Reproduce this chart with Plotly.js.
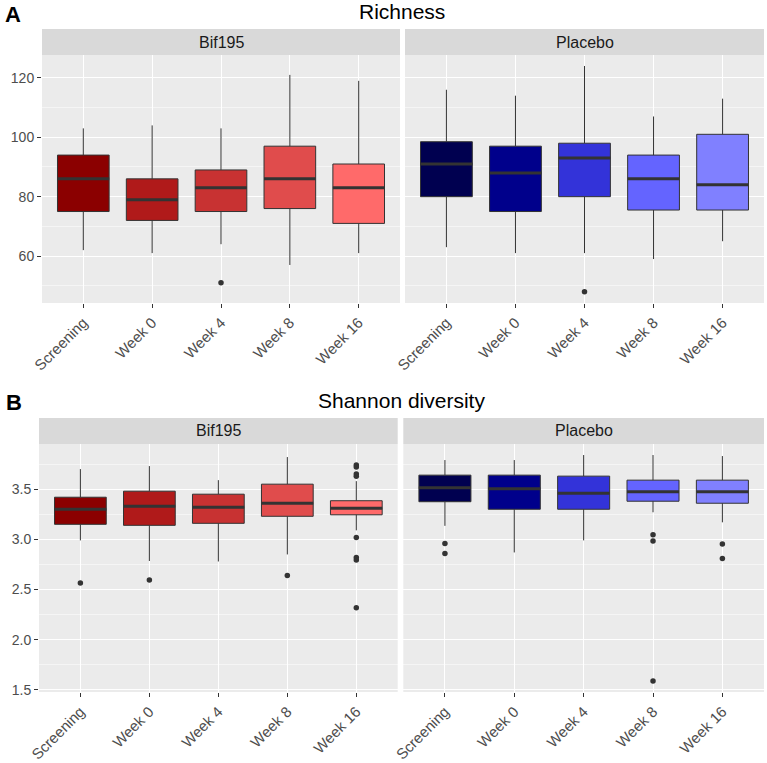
<!DOCTYPE html>
<html>
<head>
<meta charset="utf-8">
<script src="https://cdn.plot.ly/plotly-3.0.1.min.js"></script>
<style>html,body{margin:0;padding:0;background:#fff;}#chart{width:767px;height:763px;}</style>
</head>
<body>
<div id="chart"></div>
<script>
// ---- data ----
const categories = ['Screening', 'Week 0', 'Week 4', 'Week 8', 'Week 16'];
const groups = ['Bif195', 'Placebo'];
const bifColors = ['#8B0000', '#B01A1A', '#C83232', '#E04C4C', '#FF6A6A'];
const placeboColors = ['#000050', '#00008B', '#3333D9', '#6464FF', '#8080FF'];

// Richness, Bif195
const richBifLower  = [62, 61, 64, 57, 61];
const richBifQ1     = [75, 72, 75, 76, 71];
const richBifMedian = [86, 79, 83, 86, 83];
const richBifQ3     = [94, 86, 89, 97, 91];
const richBifUpper  = [103, 104, 103, 121, 119];
const richBifOutCat = ['Week 4'];
const richBifOutVal = [51];

// Richness, Placebo
const richPlaLower  = [63, 61, 61, 59, 65];
const richPlaQ1     = [80, 75, 80, 75.5, 75.5];
const richPlaMedian = [91, 88, 93, 86, 84];
const richPlaQ3     = [98.5, 97, 98, 94, 101];
const richPlaUpper  = [116, 114, 124, 107, 113];
const richPlaOutCat = ['Week 4'];
const richPlaOutVal = [48];

// Shannon diversity, Bif195
const shanBifLower  = [2.99, 2.785, 2.78, 2.85, 3.09];
const shanBifQ1     = [3.15, 3.14, 3.16, 3.23, 3.245];
const shanBifMedian = [3.30, 3.33, 3.32, 3.36, 3.31];
const shanBifQ3     = [3.42, 3.48, 3.45, 3.55, 3.385];
const shanBifUpper  = [3.70, 3.73, 3.59, 3.82, 3.58];
const shanBifOutCat = ['Screening', 'Week 0', 'Week 8', 'Week 16', 'Week 16', 'Week 16', 'Week 16', 'Week 16', 'Week 16', 'Week 16', 'Week 16'];
const shanBifOutVal = [2.565, 2.595, 2.64, 3.74, 3.72, 3.65, 3.63, 3.02, 2.82, 2.795, 2.32];

// Shannon diversity, Placebo
const shanPlaLower  = [3.135, 2.87, 2.99, 3.27, 3.17];
const shanPlaQ1     = [3.375, 3.30, 3.30, 3.38, 3.36];
const shanPlaMedian = [3.515, 3.505, 3.46, 3.475, 3.475];
const shanPlaQ3     = [3.64, 3.64, 3.63, 3.59, 3.59];
const shanPlaUpper  = [3.79, 3.79, 3.84, 3.84, 3.83];
const shanPlaOutCat = ['Screening', 'Screening', 'Week 8', 'Week 8', 'Week 8', 'Week 16', 'Week 16'];
const shanPlaOutVal = [2.96, 2.86, 3.045, 2.985, 1.59, 2.955, 2.81];

// ---- build ----
const BOXW = 0.75;
const traces = [];
function addPanel(xa, ya, colors, lower, q1, med, q3, upper, outCat, outVal) {
  categories.forEach((c, i) => {
    traces.push({
      type: 'box', xaxis: xa, yaxis: ya, x: [i],
      q1: [q1[i]], median: [med[i]], q3: [q3[i]],
      lowerfence: [lower[i]], upperfence: [upper[i]],
      width: BOXW, whiskerwidth: 0, boxpoints: false,
      fillcolor: colors[i], line: {color: '#333333', width: 1},
      showlegend: false, hoverinfo: 'skip'
    });
  });
  const mx = [], my = [];
  categories.forEach((c, i) => { mx.push(i - BOXW / 2, i + BOXW / 2, null); my.push(med[i], med[i], null); });
  traces.push({type: 'scatter', mode: 'lines', xaxis: xa, yaxis: ya, x: mx, y: my,
    line: {color: '#333333', width: 3}, showlegend: false, hoverinfo: 'skip'});
  traces.push({type: 'scatter', mode: 'markers', xaxis: xa, yaxis: ya,
    x: outCat.map(c => categories.indexOf(c)), y: outVal,
    marker: {color: '#333333', size: 5.5}, showlegend: false, hoverinfo: 'skip'});
}
addPanel('x', 'y', bifColors, richBifLower, richBifQ1, richBifMedian, richBifQ3, richBifUpper, richBifOutCat, richBifOutVal);
addPanel('x2', 'y2', placeboColors, richPlaLower, richPlaQ1, richPlaMedian, richPlaQ3, richPlaUpper, richPlaOutCat, richPlaOutVal);
addPanel('x3', 'y3', bifColors, shanBifLower, shanBifQ1, shanBifMedian, shanBifQ3, shanBifUpper, shanBifOutCat, shanBifOutVal);
addPanel('x4', 'y4', placeboColors, shanPlaLower, shanPlaQ1, shanPlaMedian, shanPlaQ3, shanPlaUpper, shanPlaOutCat, shanPlaOutVal);

const W = 767, H = 763;
const px = v => v / W, py = v => 1 - v / H;
const FONT = 'Liberation Sans, Arial, sans-serif';

function xaxis(domain, anchor) {
  return {
    domain: domain, anchor: anchor, range: [-0.6, 4.6],
    tickmode: 'array', tickvals: categories.map((c, i) => i), ticktext: categories,
    tickangle: -45, ticks: 'outside', ticklen: 4, tickcolor: '#333333', tickwidth: 1,
    tickfont: {family: FONT, size: 15, color: '#4D4D4D'},
    showgrid: true, gridcolor: '#FFFFFF', gridwidth: 1, zeroline: false, showline: false,
    automargin: false, fixedrange: true
  };
}
function yaxis(domain, anchor, range, dtick, minorDtick, showLabels, fmt) {
  return {
    domain: domain, anchor: anchor, range: range, tick0: 0, dtick: dtick,
    ticks: showLabels ? 'outside' : '', ticklen: 4, tickcolor: '#333333', tickwidth: 1,
    showticklabels: showLabels, tickformat: fmt,
    tickfont: {family: FONT, size: 14, color: '#4D4D4D'},
    showgrid: true, gridcolor: '#FFFFFF', gridwidth: 1,
    minor: {dtick: minorDtick, tick0: 0, showgrid: true, gridcolor: '#FFFFFF', gridwidth: 0.5, ticks: ''},
    zeroline: false, showline: false, automargin: false, fixedrange: true
  };
}

const topY = [py(303), py(55)];
const botY = [py(692), py(444)];
const richRange = [44.2, 127.7];
const shanRange = [1.48, 3.95];

const panelsX = {
  x: [px(42), px(400)], x2: [px(405), px(764)],
  x3: [px(39), px(397.7)], x4: [px(403.3), px(764)]
};

const shapes = [];
const annotations = [];
function strip(xd, y0, y1, label) {
  shapes.push({type: 'rect', xref: 'paper', yref: 'paper', x0: xd[0], x1: xd[1], y0: py(y1), y1: py(y0),
    fillcolor: '#D9D9D9', line: {width: 0}, layer: 'below'});
  annotations.push({xref: 'paper', yref: 'paper', x: (xd[0] + xd[1]) / 2, y: py((y0 + y1) / 2),
    xanchor: 'center', yanchor: 'middle', showarrow: false, text: label,
    font: {family: FONT, size: 16, color: '#1A1A1A'}});
}
strip(panelsX.x, 29, 55, groups[0]);
strip(panelsX.x2, 29, 55, groups[1]);
strip(panelsX.x3, 418, 444, groups[0]);
strip(panelsX.x4, 418, 444, groups[1]);

annotations.push({xref: 'paper', yref: 'paper', x: px(402), y: py(12), xanchor: 'center', yanchor: 'middle',
  showarrow: false, text: 'Richness', font: {family: FONT, size: 21, color: '#000000'}});
annotations.push({xref: 'paper', yref: 'paper', x: px(401), y: py(400), xanchor: 'center', yanchor: 'middle',
  showarrow: false, text: 'Shannon diversity', font: {family: FONT, size: 21, color: '#000000'}});
annotations.push({xref: 'paper', yref: 'paper', x: px(3), y: py(14.5), xanchor: 'left', yanchor: 'middle',
  showarrow: false, text: '<b>A</b>', font: {family: FONT, size: 22, color: '#000000'}});
annotations.push({xref: 'paper', yref: 'paper', x: px(4), y: py(402), xanchor: 'left', yanchor: 'middle',
  showarrow: false, text: '<b>B</b>', font: {family: FONT, size: 22, color: '#000000'}});

const layout = {
  width: W, height: H, margin: {l: 0, r: 0, t: 0, b: 0},
  paper_bgcolor: '#FFFFFF', plot_bgcolor: '#EBEBEB', showlegend: false,
  font: {family: FONT},
  xaxis: xaxis(panelsX.x, 'y'),
  xaxis2: xaxis(panelsX.x2, 'y2'),
  xaxis3: xaxis(panelsX.x3, 'y3'),
  xaxis4: xaxis(panelsX.x4, 'y4'),
  yaxis: yaxis(topY, 'x', richRange, 20, 10, true, 'd'),
  yaxis2: yaxis(topY, 'x2', richRange, 20, 10, false, 'd'),
  yaxis3: yaxis(botY, 'x3', shanRange, 0.5, 0.25, true, '.1f'),
  yaxis4: yaxis(botY, 'x4', shanRange, 0.5, 0.25, false, '.1f'),
  shapes: shapes, annotations: annotations
};

Plotly.newPlot('chart', traces, layout, {staticPlot: true, displayModeBar: false});
</script>
</body>
</html>
